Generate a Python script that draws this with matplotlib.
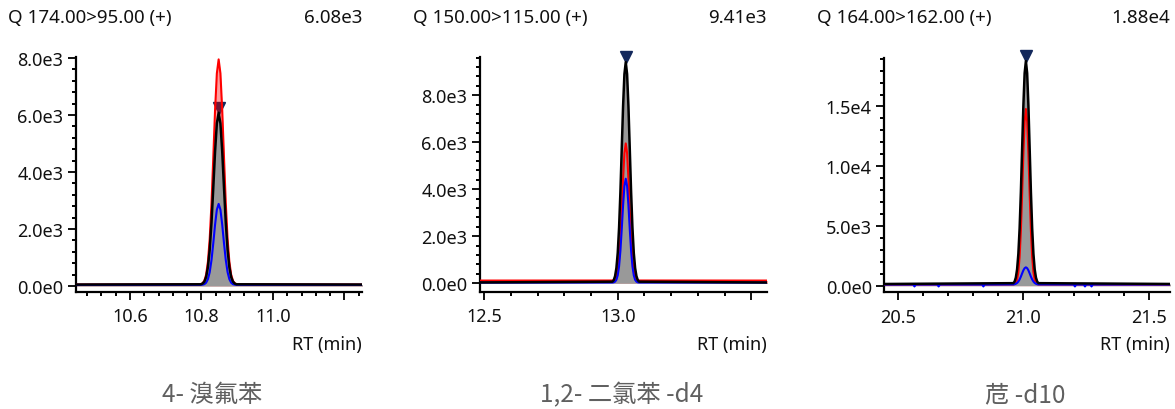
import matplotlib

matplotlib.use("Agg")
import matplotlib.pyplot as plt
from matplotlib.ticker import FixedLocator, FixedFormatter, MultipleLocator
from matplotlib.transforms import offset_copy

plt.rcParams["font.family"] = ["Noto Sans", "DejaVu Sans"]

# ---- panel 1: 4-bromofluorobenzene, Q 174.00>95.00 ----
rt1 = [10.40, 10.798, 10.803, 10.808, 10.813, 10.818, 10.823, 10.828, 10.833,
       10.838, 10.843, 10.848, 10.853, 10.858, 10.863, 10.868, 10.873, 10.878,
       10.883, 10.888, 10.893, 10.898, 11.30]
black1 = [50, 60, 86, 153, 315, 659, 1274, 2221, 3445, 4723, 5706, 6080, 5706,
          4723, 3445, 2221, 1274, 659, 315, 153, 86, 60, 50]
red1 = [50, 63, 97, 184, 398, 848, 1654, 2894, 4498, 6173, 7460, 7950, 7460,
        6173, 4498, 2894, 1654, 848, 398, 184, 97, 63, 50]
blue_rt1 = rt1
blue1 = [40, 42, 47, 65, 117, 239, 486, 909, 1500, 2153, 2678, 2880, 2678,
         2153, 1500, 909, 486, 239, 117, 65, 47, 42, 40]
peak1 = (10.848, 6080)
xticks1 = [10.6, 10.8, 11.0, 11.2]
xlabels1 = ["10.6", "10.8", "11.0", ""]
yticks1 = [0, 2000, 4000, 6000, 8000]
ylabels1 = ["0.0e0", "2.0e3", "4.0e3", "6.0e3", "8.0e3"]

# ---- panel 2: 1,2-dichlorobenzene-d4, Q 150.00>115.00 ----
rt2 = [12.40, 12.980, 12.985, 12.990, 12.995, 13.000, 13.005, 13.010, 13.015,
       13.020, 13.025, 13.030, 13.035, 13.040, 13.045, 13.050, 13.055, 13.060,
       13.065, 13.070, 13.075, 13.080, 13.60]
black2 = [30, 68, 133, 302, 649, 1296, 2366, 3885, 5724, 7543, 8903, 9410, 8903,
          7543, 5724, 3885, 2366, 1296, 649, 302, 133, 68, 30]
red2 = [115, 118, 130, 166, 273, 523, 1031, 1900, 3114, 4456, 5536, 5950, 5536,
        4456, 3114, 1900, 1031, 523, 273, 166, 130, 118, 115]
blue_rt2 = rt2
blue2 = [30, 33, 41, 69, 149, 339, 724, 1383, 2302, 3318, 4136, 4450, 4136,
         3318, 2302, 1383, 724, 339, 149, 69, 41, 33, 30]
peak2 = (13.030, 9410)
xticks2 = [12.5, 13.0, 13.5]
xlabels2 = ["12.5", "13.0", ""]
yticks2 = [0, 2000, 4000, 6000, 8000]
ylabels2 = ["0.0e0", "2.0e3", "4.0e3", "6.0e3", "8.0e3"]

# ---- panel 3: acenaphthene-d10, Q 164.00>162.00 ----
rt3 = [20.40, 20.960, 20.965, 20.970, 20.975, 20.980, 20.985, 20.990, 20.995,
       21.000, 21.005, 21.010, 21.015, 21.020, 21.025, 21.030, 21.035, 21.040,
       21.045, 21.050, 21.055, 21.060, 21.65]
black3 = [140, 215, 345, 681, 1372, 2659, 4786, 7809, 11467, 15087, 17792, 18800,
          17792, 15087, 11467, 7809, 4786, 2659, 1372, 681, 345, 215, 140]
red3 = [100, 110, 140, 230, 500, 1130, 2400, 4590, 7650, 11030, 13750, 14790,
        13750, 11030, 7650, 4590, 2400, 1130, 500, 230, 140, 110, 100]
blue_rt3 = [20.40, 20.562, 20.567, 20.572, 20.658, 20.663, 20.668, 20.836, 20.841,
            20.846, 20.960, 20.965, 20.970, 20.975, 20.980, 20.985, 20.990,
            20.995, 21.000, 21.005, 21.010, 21.015, 21.020, 21.025, 21.030,
            21.035, 21.040, 21.045, 21.050, 21.055, 21.060, 21.200, 21.205,
            21.210, 21.240, 21.245, 21.250, 21.266, 21.271, 21.276, 21.65]
blue3 = [100, 100, -60, 100, 100, -60, 100, 100, -60, 100, 110, 125, 165, 230,
         350, 525, 760, 1030, 1290, 1470, 1540, 1470, 1290, 1030, 760, 525, 350,
         230, 165, 125, 110, 100, -60, 100, 100, -60, 100, 100, -60, 100, 100]
peak3 = (21.010, 18800)
xticks3 = [20.5, 21.0, 21.5]
xlabels3 = ["20.5", "21.0", "21.5"]
yticks3 = [0, 5000, 10000, 15000]
ylabels3 = ["0.0e0", "5.0e3", "1.0e4", "1.5e4"]

headers = ["Q 174.00>95.00 (+)", "Q 150.00>115.00 (+)", "Q 164.00>162.00 (+)"]
maxima = ["6.08e3", "9.41e3", "1.88e4"]
captions = ["4- 溴氟苯", "1,2- 二氯苯 -d4", "苊 -d10"]

W, H = 1175, 410
fig = plt.figure(figsize=(W / 100, H / 100), dpi=100)

panels = [
    dict(box=(76, 58.4, 362, 293.0), xlim=(10.449, 11.249), ylim=(-210, 8020),
         rt=rt1, black=black1, red=red1, brt=blue_rt1, blue=blue1, peak=peak1,
         xt=xticks1, xl=xlabels1, xminor=0.04, yt=yticks1, yl=ylabels1, yminor=400,
         hx=8, caption_x=212),
    dict(box=(480, 58.2, 766.7, 293.2), xlim=(12.485, 13.557), ylim=(-380, 9620),
         rt=rt2, black=black2, red=red2, brt=blue_rt2, blue=blue2, peak=peak2,
         xt=xticks2, xl=xlabels2, xminor=0.1, yt=yticks2, yl=ylabels2, yminor=400,
         hx=413, caption_x=622),
    dict(box=(884.3, 59.1, 1170, 293.3), xlim=(20.447, 21.583), ylim=(-550, 19050),
         rt=rt3, black=black3, red=red3, brt=blue_rt3, blue=blue3, peak=peak3,
         xt=xticks3, xl=xlabels3, xminor=0.1, yt=yticks3, yl=ylabels3, yminor=1000,
         hx=817, caption_x=1025),
]

for i, p in enumerate(panels):
    l, t, r, b = p["box"]
    ax = fig.add_axes([l / W, 1 - b / H, (r - l) / W, (b - t) / H])
    ax.set_xlim(*p["xlim"])
    ax.set_ylim(*p["ylim"])

    # marker sits just above the apex, tip touching it
    trans = offset_copy(ax.transData, fig=fig, x=0, y=5, units="dots")
    ax.plot([p["peak"][0]], [p["peak"][1]], marker="v", ms=8, color="#13285c",
            transform=trans, clip_on=False, zorder=1)
    ax.fill_between(p["rt"], p["red"], color="#ff0000", alpha=0.38, lw=0, zorder=1.5)
    ax.fill_between(p["rt"], p["black"], color="#999999", lw=0, zorder=2)
    ax.plot(p["rt"], p["red"], color="#ff0000", lw=1.5, zorder=3)
    ax.plot(p["brt"], p["blue"], color="#0000ff", lw=1.5, zorder=4)
    ax.plot(p["rt"], p["black"], color="black", lw=1.8, zorder=5)

    for s in ("top", "right"):
        ax.spines[s].set_visible(False)
    for s in ("left", "bottom"):
        ax.spines[s].set_linewidth(1.6)

    ax.xaxis.set_major_locator(FixedLocator(p["xt"]))
    ax.xaxis.set_major_formatter(FixedFormatter(p["xl"]))
    ax.xaxis.set_minor_locator(MultipleLocator(p["xminor"]))
    ax.yaxis.set_major_locator(FixedLocator(p["yt"]))
    ax.yaxis.set_major_formatter(FixedFormatter(p["yl"]))
    ax.yaxis.set_minor_locator(MultipleLocator(p["yminor"]))
    ax.tick_params(which="major", length=6, width=1.4, labelsize=13,
                   colors="#111111", pad=3)
    ax.tick_params(which="minor", length=3, width=1.4)
    ax.tick_params(axis="x", which="major", pad=5)

    fig.text(p["hx"] / W, 1 - 18 / H, headers[i], fontsize=13.5, color="#111111",
             ha="left", va="center")
    fig.text(r / W, 1 - 18 / H, maxima[i], fontsize=13.5, color="#111111",
             ha="right", va="center")
    fig.text(r / W, 1 - 345 / H, "RT (min)", fontsize=13, color="#111111",
             ha="right", va="center")
    fig.text(p["caption_x"] / W, 1 - 395 / H, captions[i], fontsize=17.5,
             color="#606060", ha="center", va="center",
             family=["Noto Sans CJK SC", "DejaVu Sans"], fontweight="light")

fig.savefig("out.png", dpi=100)
